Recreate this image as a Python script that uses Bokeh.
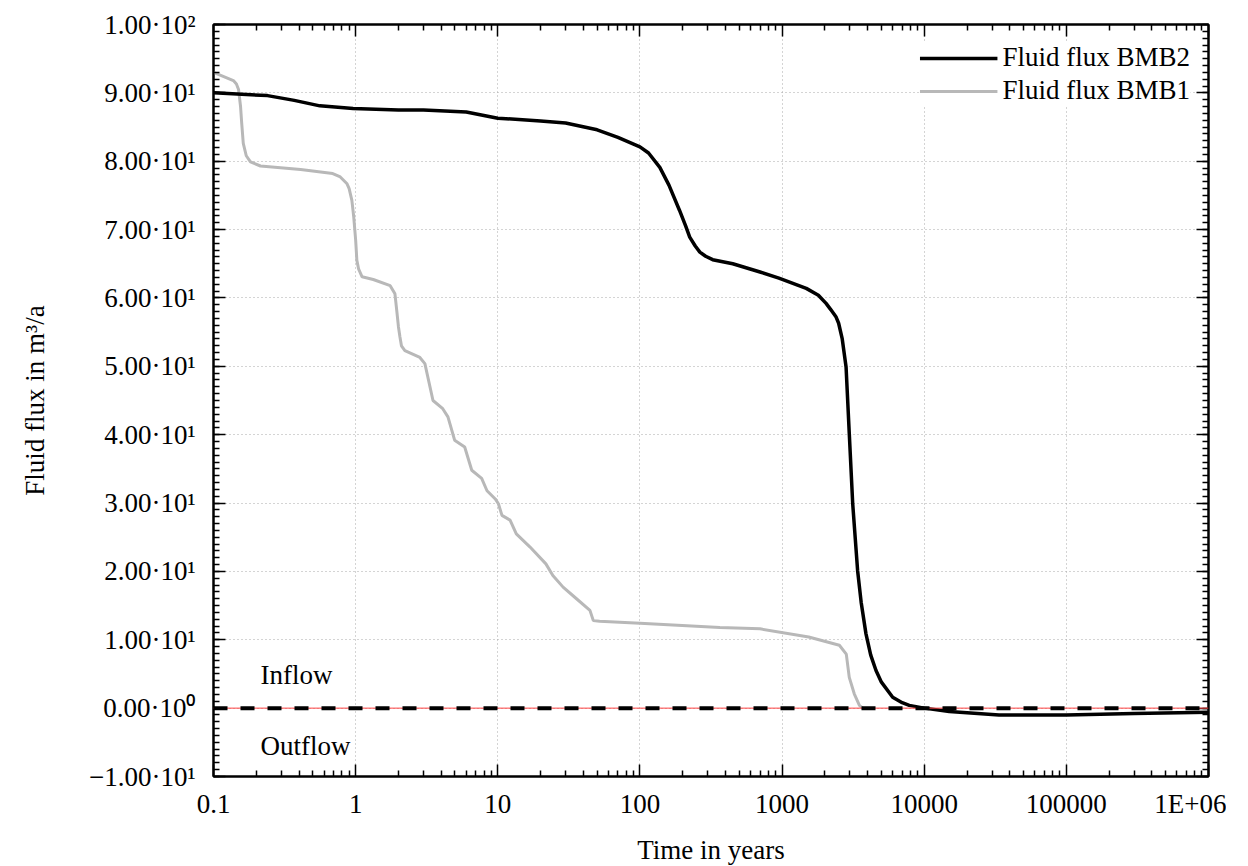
from bokeh.plotting import figure
from bokeh.models import (FixedTicker, CustomJSTickFormatter, LogAxis, LinearAxis,
                          Span, Label, Legend, LegendItem)
from bokeh.embed import file_html
from bokeh.resources import INLINE

# ---------------- data ----------------
bmb2_t = [0.1, 0.24, 0.37, 0.56, 0.96, 2.0, 3.0, 6.0, 10.0, 20.0, 30.0, 50.0, 70.0,
          100.0, 115.0, 138.0, 160.0, 190.0, 210.0, 224.0, 245.0, 264.0, 290.0, 325.0,
          450.0, 700.0, 950.0, 1480.0, 1800.0, 2040.0, 2200.0, 2400.0, 2500.0, 2650.0,
          2820.0, 2970.0, 3140.0, 3400.0, 3600.0, 3890.0, 4200.0, 4580.0, 5000.0,
          6000.0, 7000.0, 7850.0, 10000.0, 15000.0, 33600.0, 100000.0, 300000.0, 1000000.0]
bmb2_q = [90.0, 89.6, 88.9, 88.1, 87.7, 87.5, 87.5, 87.2, 86.3, 85.9, 85.6, 84.6, 83.5,
          82.1, 81.2, 79.1, 76.5, 72.8, 70.5, 68.9, 67.6, 66.7, 66.1, 65.6,
          65.0, 63.8, 62.9, 61.4, 60.4, 59.2, 58.3, 57.2, 56.3, 54.0,
          49.9, 40.2, 29.9, 20.1, 15.5, 10.9, 7.8, 5.5, 3.8,
          1.6, 0.8, 0.4, 0.0, -0.5, -1.0, -1.0, -0.8, -0.6]

bmb1_t = [0.1, 0.138, 0.145, 0.15, 0.155, 0.158, 0.162, 0.17, 0.182, 0.214, 0.41, 0.69,
          0.78, 0.87, 0.9, 0.94, 0.95, 0.97, 1.0, 1.02, 1.05, 1.11, 1.33, 1.75, 1.89,
          1.95, 2.0, 2.05, 2.1, 2.22, 2.83, 3.07, 3.5, 4.1, 4.46,
          4.97, 5.85, 6.56, 7.7, 8.4, 9.6, 10.1, 10.7, 12.2, 13.5, 16.8, 21.8, 24.4,
          28.8, 35.8, 44.5, 47.0, 52.0, 100.0, 365.0, 700.0, 1540.0, 2530.0, 2830.0,
          2970.0, 3220.0, 3500.0, 3700.0]
bmb1_q = [93.0, 91.8, 91.3, 90.5, 88.0, 85.5, 82.6, 80.8, 79.9, 79.3, 78.8, 78.2,
          77.7, 76.7, 76.0, 74.3, 73.5, 71.8, 68.5, 65.5, 64.2, 63.1, 62.7, 61.8, 60.6,
          58.0, 55.8, 54.3, 53.0, 52.3, 51.3, 50.4, 45.0, 43.8, 42.6,
          39.2, 38.2, 34.8, 33.6, 31.8, 30.6, 29.9, 28.2, 27.5, 25.5, 23.6, 21.1, 19.4,
          17.7, 16.0, 14.3, 12.8, 12.7, 12.4, 11.8, 11.6, 10.4, 9.2, 7.9,
          4.5, 2.1, 0.4, 0.0]

x_ticks = [0.1, 1, 10, 100, 1000, 10000, 100000, 1000000]
x_tick_labels = ["0.1", "1", "10", "100", "1000", "10000", "100000", "1E+06"]
y_ticks = [-10, 0, 10, 20, 30, 40, 50, 60, 70, 80, 90, 100]
y_tick_labels = ["\u22121.00\u00b710\u00b9", "0.00\u00b710\u2070", "1.00\u00b710\u00b9",
                 "2.00\u00b710\u00b9", "3.00\u00b710\u00b9", "4.00\u00b710\u00b9",
                 "5.00\u00b710\u00b9", "6.00\u00b710\u00b9", "7.00\u00b710\u00b9",
                 "8.00\u00b710\u00b9", "9.00\u00b710\u00b9", "1.00\u00b710\u00b2"]

FONT = "Liberation Serif"
FS = "27px"

p = figure(x_axis_type="log", x_range=(0.1, 1e6), y_range=(-10, 100),
           frame_width=995, frame_height=752,
           min_border_left=213, min_border_right=18, min_border_top=24, min_border_bottom=40,
           output_backend="svg", toolbar_location=None)
p.outline_line_color = "black"
p.outline_line_width = 2

x_minor = [k * 10.0 ** n for n in range(-1, 6) for k in range(2, 10)]
y_minor = list(range(-10, 101))
xticker = FixedTicker(ticks=x_ticks, minor_ticks=x_minor)
yticker = FixedTicker(ticks=y_ticks, minor_ticks=y_minor)

xfmt = CustomJSTickFormatter(args=dict(tv=x_ticks, lb=x_tick_labels), code="""
let best = 0, bd = Infinity;
for (let i = 0; i < tv.length; i++) {
  const d = Math.abs(Math.log10(tv[i]) - Math.log10(tick));
  if (d < bd) { bd = d; best = i; }
}
return lb[best];""")
yfmt = CustomJSTickFormatter(args=dict(tv=y_ticks, lb=y_tick_labels), code="""
let best = 0, bd = Infinity;
for (let i = 0; i < tv.length; i++) {
  const d = Math.abs(tv[i] - tick);
  if (d < bd) { bd = d; best = i; }
}
return lb[best];""")
blank = CustomJSTickFormatter(code="return '';")


def style(ax):
    ax.axis_line_width = 2
    ax.axis_line_color = "black"
    ax.major_tick_in = 12
    ax.major_tick_out = 0
    ax.minor_tick_in = 6
    ax.minor_tick_out = 0
    ax.major_tick_line_width = 1.5
    ax.minor_tick_line_width = 1.5
    ax.major_tick_line_color = "black"
    ax.minor_tick_line_color = "black"
    ax.major_label_text_font = FONT
    ax.major_label_text_font_size = FS
    ax.major_label_text_color = "black"
    ax.axis_label_text_font = FONT
    ax.axis_label_text_font_size = FS
    ax.axis_label_text_font_style = "normal"
    ax.axis_label_text_color = "black"


xa = p.xaxis[0]
xa.ticker = xticker
xa.formatter = xfmt
xa.axis_label = "Time in years"
style(xa)
xa.major_label_standoff = 12
xa.axis_label_standoff = 13

ya = p.yaxis[0]
ya.ticker = yticker
ya.formatter = yfmt
ya.axis_label = "Fluid flux in m\u00b3/a"
style(ya)
ya.major_label_standoff = 18
ya.axis_label_standoff = 36

top = LogAxis(ticker=xticker, formatter=blank)
style(top)
top.major_label_standoff = 0
top.major_label_text_font_size = "0px"
p.add_layout(top, "above")
right = LinearAxis(ticker=yticker, formatter=blank)
style(right)
right.major_label_standoff = 0
right.major_label_text_font_size = "0px"
p.add_layout(right, "right")

for g, tk in ((p.xgrid[0], xticker), (p.ygrid[0], yticker)):
    g.ticker = tk
    g.grid_line_color = "#a8a8a8"
    g.grid_line_dash = "1 3"
    g.grid_line_width = 1

r1 = p.line(bmb1_t, bmb1_q, line_color="#b8b8b8", line_width=3)
r2 = p.line(bmb2_t, bmb2_q, line_color="black", line_width=3.5)

p.add_layout(Span(location=0, dimension="width", line_color="#ff4040", line_width=1))
p.add_layout(Span(location=0, dimension="width", line_color="black", line_width=4,
                  line_dash="14 13"))

p.add_layout(Label(x=0.214, y=4.9, text="Inflow", text_font=FONT, text_font_size=FS,
                   text_baseline="middle", text_color="black"))
p.add_layout(Label(x=0.214, y=-5.6, text="Outflow", text_font=FONT, text_font_size=FS,
                   text_baseline="middle", text_color="black"))

legend = Legend(items=[LegendItem(label="Fluid flux BMB2", renderers=[r2]),
                       LegendItem(label="Fluid flux BMB1", renderers=[r1])],
                location="top_right", border_line_color=None,
                background_fill_color="white", background_fill_alpha=1,
                label_text_font=FONT, label_text_font_size=FS, label_text_color="black",
                glyph_width=78, glyph_height=20, label_height=27, spacing=2,
                padding=6, margin=18)
p.add_layout(legend)

open("out.html", "w").write(file_html(p, INLINE))
